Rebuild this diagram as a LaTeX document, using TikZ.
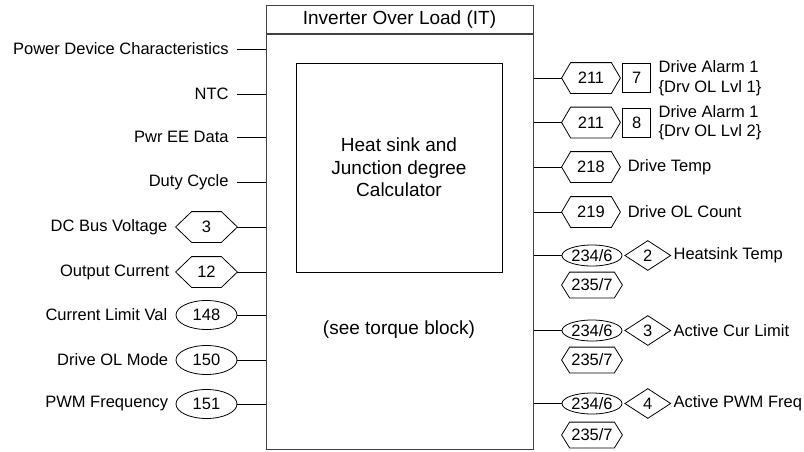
\documentclass[tikz,border=0pt]{standalone}
\usepackage{fontspec}
\setmainfont{Liberation Sans}
\usetikzlibrary{positioning,shapes.geometric}

\begin{document}
\begin{tikzpicture}[x=1pt,y=-1pt,line width=0.8pt,
  lbl/.style={font=\fontsize{16.5}{19.5}\selectfont,inner sep=0pt},
  big/.style={font=\fontsize{19}{22.5}\selectfont,inner sep=0pt,align=center},
  boxline/.style={draw=black!75,line width=1.3pt},
  hexin/.style={lbl,minimum width=61pt,minimum height=30pt},
  hexout/.style={lbl,minimum width=58pt,minimum height=30pt},
  hexsel/.style={lbl,minimum width=60pt,minimum height=25pt},
  ellin/.style={lbl,draw,ellipse,minimum width=61pt,minimum height=29pt},
  ellsel/.style={lbl,draw,ellipse,minimum width=60pt,minimum height=21pt},
  bitbox/.style={lbl,draw,minimum width=28pt,minimum height=29pt},
  bitdia/.style={lbl,draw,diamond,minimum width=46pt,minimum height=30pt}]
\useasboundingbox (0,0) rectangle (804,451);
% main block
\node[boxline,minimum width=267pt,minimum height=444pt,anchor=north west] (blk) at (266,5) {};
\node[big] (ttl) at (399.5,19.5) {Inverter Over Load (IT)};
\coordinate (rule) at (0,34);
\draw[boxline] (blk.west |- rule) -- (blk.east |- rule);
\node[big,draw,minimum width=206pt,minimum height=209pt] (calc) at (399,167.5)
  {Heat sink and\\Junction degree\\Calculator};
\node[big] (see) at (399,330) {(see torque block)};
% inputs, plain text
\foreach \y/\nm/\txt in {49/pdc/Power Device Characteristics,94/ntc/NTC,
    137/pee/Pwr EE Data,182/duty/Duty Cycle} {
  \node[lbl,inner xsep=8pt,anchor=east] (\nm) at (237,\y) {\txt};
  \draw (\nm.east) -- (\nm -| blk.west);
}
% inputs, linked parameters
\node[hexin] (dcv) at (206.5,227) {3};
\node[hexin] (iout) at (206.5,272) {12};
\node[ellin] (clim) at (206.5,315) {148};
\node[ellin] (olm) at (206.5,360) {150};
\node[ellin] (pwm) at (206.5,404) {151};
\node[lbl,left=8pt of dcv] (dcvl) {DC Bus Voltage};
\node[lbl,left=6pt of iout] (ioutl) {Output Current};
\node[lbl,left=8pt of clim] (climl) {Current Limit Val};
\node[lbl,left=7pt of olm] (olml) {Drive OL Mode};
\node[lbl,left=7pt of pwm] (pwml) {PWM Frequency};
\foreach \nm in {dcv,iout,clim,olm,pwm}
  \draw (\nm.east) -- (\nm -| blk.west);
% outputs, parameters
\node[hexout] (al1) at (591,78) {211};
\node[hexout] (al2) at (591,122.5) {211};
\node[hexout] (tmp) at (591,167) {218};
\node[hexout] (olc) at (591,212) {219};
\node[bitbox,right=2pt of al1] (al1b) {7};
\node[bitbox,right=2pt of al2] (al2b) {8};
\node[lbl,align=left,right=7pt of al1b] (al1l) {Drive Alarm 1\\\{Drv OL Lvl 1\}};
\node[lbl,align=left,right=7pt of al2b] (al2l) {Drive Alarm 1\\\{Drv OL Lvl 2\}};
\node[lbl,right=7pt of tmp] (tmpl) {Drive Temp};
\node[lbl,right=7pt of olc] (olcl) {Drive OL Count};
% outputs, analog selectors
\node[ellsel] (hs) at (592,255.5) {234/6};
\node[ellsel] (acl) at (592,330.5) {234/6};
\node[ellsel] (apf) at (592,403.5) {234/6};
\node[hexsel] (hsx) at (592,285) {235/7};
\node[hexsel] (aclx) at (592,360) {235/7};
\node[hexsel] (apfx) at (592,435) {235/7};
\node[bitdia,right=2pt of hs] (hsd) {2};
\node[bitdia,right=2pt of acl] (acld) {3};
\node[bitdia,right=2pt of apf] (apfd) {4};
\node[lbl,right=2pt of hsd] (hsl) {Heatsink Temp};
\node[lbl,right=2pt of acld] (acll) {Active Cur Limit};
\node[lbl,right=2pt of apfd] (apfl) {Active PWM Freq};
\foreach \nm in {al1,al2,tmp,olc,hs,acl,apf}
  \draw (blk.east |- \nm) -- (\nm.west);
% hexagon outlines
\foreach \nm/\d in {dcv/16,iout/16,al1/9,al2/9,tmp/9,olc/9,hsx/8,aclx/8,apfx/8}
  \draw (\nm.west) -- ([xshift=\d pt]\nm.north west) -- ([xshift=-\d pt]\nm.north east)
    -- (\nm.east) -- ([xshift=-\d pt]\nm.south east) -- ([xshift=\d pt]\nm.south west) -- cycle;
\end{tikzpicture}
\end{document}
